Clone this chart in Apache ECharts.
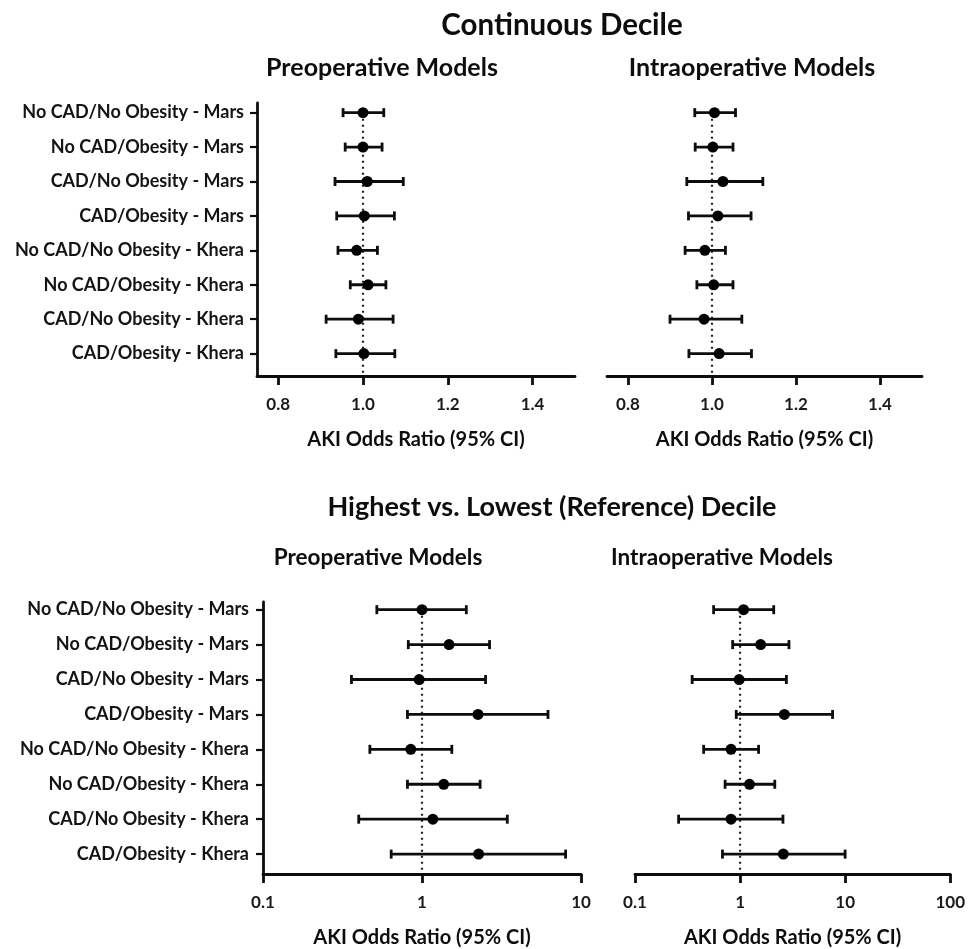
<!DOCTYPE html>
<html>
<head>
<meta charset="utf-8">
<script src="https://cdn.jsdelivr.net/npm/echarts@6/dist/echarts.min.js"></script>
<style>
  html, body { margin: 0; padding: 0; background: #ffffff; }
  #chart { width: 968px; height: 949px; }
</style>
</head>
<body>
<div id="chart"></div>
<script>
// Subgroup rows, top to bottom
const categories = [
  'No CAD/No Obesity - Mars',
  'No CAD/Obesity - Mars',
  'CAD/No Obesity - Mars',
  'CAD/Obesity - Mars',
  'No CAD/No Obesity - Khera',
  'No CAD/Obesity - Khera',
  'CAD/No Obesity - Khera',
  'CAD/Obesity - Khera'
];

// Continuous decile, preoperative models: odds ratio and 95% CI
const contPreOR   = [1.000, 1.000, 1.010, 1.003, 0.985, 1.012, 0.989, 1.002];
const contPreLow  = [0.953, 0.958, 0.934, 0.938, 0.941, 0.970, 0.913, 0.936];
const contPreHigh = [1.049, 1.045, 1.095, 1.074, 1.034, 1.054, 1.071, 1.075];

// Continuous decile, intraoperative models
const contIntraOR   = [1.006, 1.002, 1.026, 1.014, 0.983, 1.004, 0.981, 1.017];
const contIntraLow  = [0.959, 0.960, 0.940, 0.944, 0.936, 0.964, 0.900, 0.945];
const contIntraHigh = [1.056, 1.050, 1.121, 1.093, 1.032, 1.050, 1.071, 1.094];

// Highest vs. lowest decile, preoperative models
const decPreOR   = [1.00, 1.48, 0.96, 2.25, 0.85, 1.37, 1.17, 2.27];
const decPreLow  = [0.52, 0.82, 0.36, 0.81, 0.47, 0.81, 0.40, 0.64];
const decPreHigh = [1.90, 2.66, 2.51, 6.20, 1.54, 2.32, 3.44, 8.00];

// Highest vs. lowest decile, intraoperative models
const decIntraOR   = [1.08, 1.57, 0.98, 2.64, 0.82, 1.23, 0.82, 2.58];
const decIntraLow  = [0.56, 0.85, 0.35, 0.92, 0.45, 0.72, 0.26, 0.68];
const decIntraHigh = [2.09, 2.92, 2.76, 7.59, 1.50, 2.14, 2.56, 10.0];

// Tick labels
const contTicks = [0.8, 1.0, 1.2, 1.4];
const decPreTicks = [0.1, 1, 10];
const decIntraTicks = [0.1, 1, 10, 100];

const FONT = 'Lato';
const INK = '#0d0d0d';
const rowValues = categories.map((_, i) => i + 1);

const panels = [
  { grid: { left: 257, top: 103, width: 318, height: 273 }, type: 'value', min: 0.75, max: 1.5,
    ticks: contTicks, fmt: v => v.toFixed(1), yMin: 0.72, yMax: 8.65, showY: true, labelMargin: 13,
    or: contPreOR, low: contPreLow, high: contPreHigh },
  { grid: { left: 607, top: 103, width: 315, height: 273 }, type: 'value', min: 0.75, max: 1.5,
    ticks: contTicks, fmt: v => v.toFixed(1), yMin: 0.72, yMax: 8.65, showY: false, labelMargin: 13,
    or: contIntraOR, low: contIntraLow, high: contIntraHigh },
  { grid: { left: 263, top: 602, width: 318, height: 272 }, type: 'log', min: 0.1, max: 10,
    ticks: decPreTicks, fmt: v => String(v), yMin: 0.78, yMax: 8.57, showY: true, labelMargin: 14,
    or: decPreOR, low: decPreLow, high: decPreHigh },
  { grid: { left: 635, top: 602, width: 318, height: 272 }, type: 'log', min: 0.1, max: 100,
    ticks: decIntraTicks, fmt: v => String(v), yMin: 0.78, yMax: 8.57, showY: false, labelMargin: 14,
    or: decIntraOR, low: decIntraLow, high: decIntraHigh }
];

function errorBarItem(params, api) {
  const row = api.value(2);
  const a = api.coord([api.value(0), row]);
  const b = api.coord([api.value(1), row]);
  const cap = 4.5;
  const style = { stroke: INK, lineWidth: 2.8 };
  return {
    type: 'group',
    children: [
      { type: 'line', shape: { x1: a[0], y1: a[1], x2: b[0], y2: b[1] }, style },
      { type: 'line', shape: { x1: a[0], y1: a[1] - cap, x2: a[0], y2: a[1] + cap }, style },
      { type: 'line', shape: { x1: b[0], y1: b[1] - cap, x2: b[0], y2: b[1] + cap }, style }
    ]
  };
}

const option = {
  backgroundColor: '#ffffff',
  animation: false,
  textStyle: { fontFamily: FONT },
  grid: panels.map(p => p.grid),
  xAxis: panels.map((p, i) => ({
    gridIndex: i,
    type: p.type,
    logBase: 10,
    min: p.min,
    max: p.max,
    name: 'AKI Odds Ratio (95% CI)',
    nameLocation: 'middle',
    nameGap: 54,
    nameTextStyle: { fontFamily: FONT, fontWeight: 'bold', fontSize: 20, color: INK },
    axisLine: { show: true, lineStyle: { color: INK, width: 2.8 } },
    axisTick: { show: true, length: 9, customValues: p.ticks, lineStyle: { color: INK, width: 2.8 } },
    axisLabel: { show: true, customValues: p.ticks, formatter: p.fmt, margin: 20,
                 fontFamily: FONT, fontWeight: 'bold', fontSize: 17, color: '#1a1a1a' },
    splitLine: { show: false },
    minorTick: { show: false }
  })),
  yAxis: panels.map((p, i) => ({
    gridIndex: i,
    type: 'value',
    inverse: true,
    min: p.yMin,
    max: p.yMax,
    show: p.showY,
    axisLine: { show: true, lineStyle: { color: INK, width: 2.8 } },
    axisTick: { show: true, length: 7, customValues: rowValues, lineStyle: { color: INK, width: 2.2 } },
    axisLabel: { show: true, customValues: rowValues, formatter: v => categories[v - 1], margin: p.labelMargin,
                 fontFamily: FONT, fontWeight: 'bold', fontSize: 18, color: '#141414' },
    splitLine: { show: false }
  })),
  series: [],
  graphic: []
};

panels.forEach((p, i) => {
  // dotted reference line at an odds ratio of 1
  option.series.push({
    type: 'line', xAxisIndex: i, yAxisIndex: i, symbol: 'none', silent: true, z: 1,
    data: [[1, 1], [1, p.yMax]],
    lineStyle: { color: '#222', width: 2.2, type: [2, 4] }
  });
  // confidence intervals
  option.series.push({
    type: 'custom', xAxisIndex: i, yAxisIndex: i, z: 2, clip: false,
    renderItem: errorBarItem,
    encode: { x: [0, 1], y: 2 },
    data: p.low.map((lo, k) => [lo, p.high[k], k + 1])
  });
  // point estimates
  option.series.push({
    type: 'scatter', xAxisIndex: i, yAxisIndex: i, z: 3,
    symbol: 'circle', symbolSize: 11,
    itemStyle: { color: '#000000', opacity: 1 },
    data: p.or.map((v, k) => [v, k + 1])
  });
});

const titleStyle = (size) => ({ fontFamily: FONT, fontWeight: 'bold', fontSize: size, fill: INK, textAlign: 'center', textVerticalAlign: 'middle' });
option.graphic = [
  { type: 'text', x: 562, y: 25, style: Object.assign({ text: 'Continuous Decile' }, titleStyle(29.5)) },
  { type: 'text', x: 382, y: 68, style: Object.assign({ text: 'Preoperative Models' }, titleStyle(25)) },
  { type: 'text', x: 752, y: 68, style: Object.assign({ text: 'Intraoperative Models' }, titleStyle(25)) },
  { type: 'text', x: 552, y: 507, style: Object.assign({ text: 'Highest vs. Lowest (Reference) Decile' }, titleStyle(27)) },
  { type: 'text', x: 378, y: 558, style: Object.assign({ text: 'Preoperative Models' }, titleStyle(22.5)) },
  { type: 'text', x: 722, y: 558, style: Object.assign({ text: 'Intraoperative Models' }, titleStyle(22.5)) }
];

const chart = echarts.init(document.getElementById('chart'), null, { renderer: 'canvas' });
chart.setOption(option);
</script>
</body>
</html>
